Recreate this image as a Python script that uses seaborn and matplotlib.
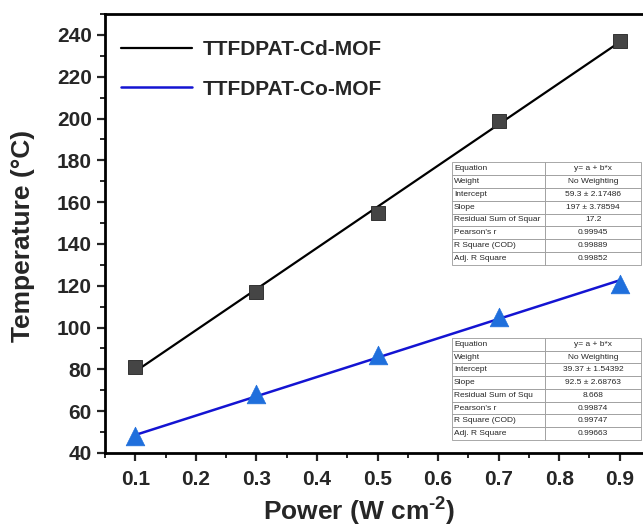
import numpy as np
import pandas as pd
import matplotlib
matplotlib.use('Agg')
import matplotlib.pyplot as plt
from matplotlib.ticker import MultipleLocator
import seaborn as sns

# data
power = [0.1, 0.3, 0.5, 0.7, 0.9]
temp_cd = [81, 117, 155, 199, 237]
temp_co = [48, 68, 87, 105, 121]

# linear fit results (from the tables)
cd_fit = {'intercept': 59.3, 'slope': 197}
co_fit = {'intercept': 39.37, 'slope': 92.5}

table_labels = ['Equation', 'Weight', 'Intercept', 'Slope', 'Residual Sum of Squar',
                "Pearson's r", 'R Square (COD)', 'Adj. R Square']
table_labels_co = ['Equation', 'Weight', 'Intercept', 'Slope', 'Residual Sum of Squ',
                   "Pearson's r", 'R Square (COD)', 'Adj. R Square']
cd_table = ['y= a + b*x', 'No Weighting', '59.3 \u00b1 2.17486', '197 \u00b1 3.78594',
            '17.2', '0.99945', '0.99889', '0.99852']
co_table = ['y= a + b*x', 'No Weighting', '39.37 \u00b1 1.54392', '92.5 \u00b1 2.68763',
            '8.668', '0.99874', '0.99747', '0.99663']

sns.set_style('ticks')
plt.rcParams['font.family'] = ['Liberation Sans', 'DejaVu Sans']
plt.rcParams['mathtext.fontset'] = 'custom'
plt.rcParams['mathtext.rm'] = 'Liberation Sans:bold'
plt.rcParams['mathtext.default'] = 'rm'

fig = plt.figure(figsize=(6.43, 5.31), dpi=100)
ax = fig.add_axes([0.1633, 0.1469, 0.8476, 0.8267])

df = pd.DataFrame({'power': power, 'cd': temp_cd, 'co': temp_co})
xs = np.array([power[0], power[-1]])
fit_df = pd.DataFrame({
    'power': xs,
    'cd': cd_fit['intercept'] + cd_fit['slope'] * xs,
    'co': co_fit['intercept'] + co_fit['slope'] * xs,
})

sns.lineplot(data=fit_df, x='power', y='cd', ax=ax, color='black', lw=1.6,
             label='TTFDPAT-Cd-MOF', zorder=2)
sns.lineplot(data=fit_df, x='power', y='co', ax=ax, color='#1414d2', lw=1.8,
             label='TTFDPAT-Co-MOF', zorder=2)
sns.scatterplot(data=df, x='power', y='cd', ax=ax, marker='s', s=110,
                color='#454545', edgecolor='#222222', linewidth=0.6, zorder=3)
sns.scatterplot(data=df, x='power', y='co', ax=ax, marker='^', s=180,
                color='#1f6fdc', edgecolor='#1f6fdc', linewidth=0.5, zorder=3)

ax.set_xlim(0.05, 0.95)
ax.set_ylim(40, 250)
ax.xaxis.set_minor_locator(MultipleLocator(0.05))
ax.yaxis.set_minor_locator(MultipleLocator(10))
ax.set_xticks([0.1, 0.2, 0.3, 0.4, 0.5, 0.6, 0.7, 0.8, 0.9])
ax.set_xticklabels(['0.1', '0.2', '0.3', '0.4', '0.5', '0.6', '0.7', '0.8', '0.9'])
ax.set_yticks([40, 60, 80, 100, 120, 140, 160, 180, 200, 220, 240])
ax.tick_params(which='major', length=6, width=1.6, labelsize=15, direction='out')
ax.tick_params(axis='x', which='major', pad=6)
ax.tick_params(which='minor', length=3.5, width=1.4, direction='out')
for lab in ax.get_xticklabels() + ax.get_yticklabels():
    lab.set_fontweight('bold')
for sp in ax.spines.values():
    sp.set_linewidth(2)
    sp.set_color('black')

ax.set_xlabel('Power (W cm$^{\u20102}$)', fontsize=19, fontweight='bold')
ax.xaxis.set_label_coords(0.466, -0.097)
ax.set_ylabel('Temperature (\u00b0C)', fontsize=19, fontweight='bold')
ax.yaxis.set_label_coords(-0.128, 0.494)

leg = ax.legend(loc='upper left', bbox_to_anchor=(-0.005, 0.984), frameon=False,
                handlelength=3.4, handletextpad=0.5, labelspacing=1.0,
                prop={'weight': 'bold', 'size': 15})


def draw_table(labels, values, bbox):
    rows = [[a, b] for a, b in zip(labels, values)]
    tb = ax.table(cellText=rows, bbox=bbox, colWidths=[0.49, 0.51], zorder=5)
    tb.auto_set_font_size(False)
    tb.set_fontsize(6.0)
    for (r, c), cell in tb.get_celld().items():
        cell.set_edgecolor('#9a9a9a')
        cell.set_linewidth(0.6)
        cell.set_facecolor('white')
        cell._loc = 'left' if c == 0 else 'center'
        cell.get_text().set_ha(cell._loc)
        cell.PAD = 0.02
    return tb


draw_table(table_labels, cd_table, [0.637, 0.428, 0.347, 0.235])
draw_table(table_labels_co, co_table, [0.637, 0.030, 0.347, 0.232])

fig.savefig('out.png', dpi=100)
